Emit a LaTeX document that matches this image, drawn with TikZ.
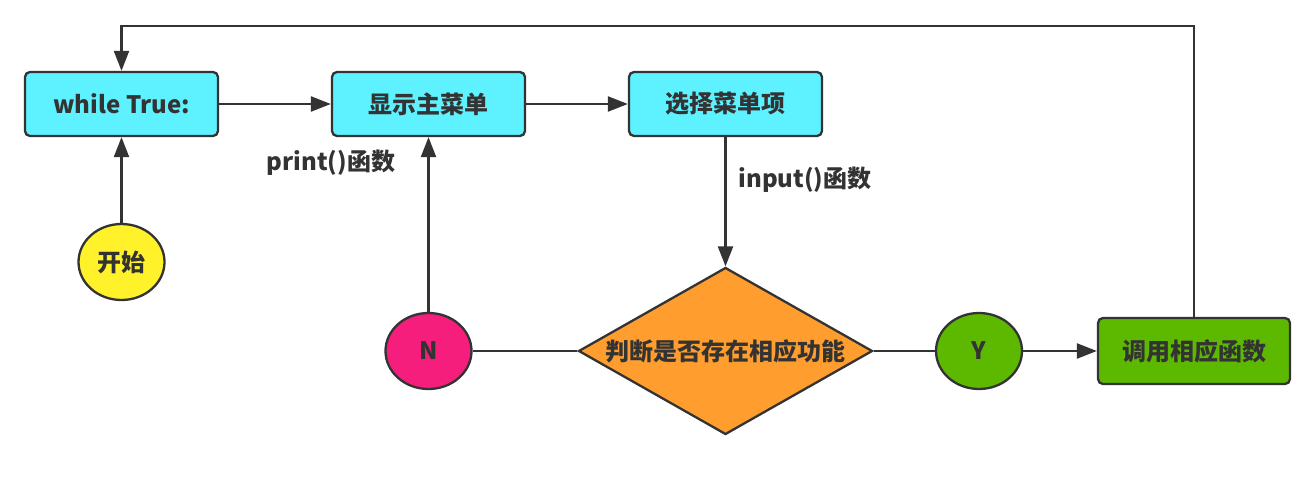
\documentclass[tikz,border=0pt]{standalone}
\usepackage{fontspec}
\setmainfont{Noto Sans CJK SC}
\usetikzlibrary{arrows.meta,shapes.geometric}
\definecolor{ln}{HTML}{333333}
\definecolor{cy}{HTML}{5EF1FF}
\definecolor{yl}{HTML}{FFF22A}
\definecolor{pk}{HTML}{F51E7C}
\definecolor{og}{HTML}{FF9D2E}
\definecolor{gr}{HTML}{5DB800}
\begin{document}
\begin{tikzpicture}[x=1pt,y=-1pt,
  every node/.style={font=\fontsize{24}{28}\selectfont\bfseries, text=ln},
  box/.style={draw=ln, line width=2.3pt, rounded corners=5pt, minimum width=193pt, minimum height=64pt, inner sep=0pt},
  oval/.style={ellipse, draw=ln, line width=2.3pt, minimum width=86pt, minimum height=76pt, inner sep=0pt},
  conn/.style={draw=ln, line width=2.3pt},
  arr/.style={conn, -{Triangle[length=20pt,width=15pt]}},
  lbl/.style={inner sep=0pt}]
\useasboundingbox[fill=white] (0,0) rectangle (1314,481);
\node[box, fill=cy] (w) at (121.5,104) {while True:};
\node[box, fill=cy] (s) at (428.5,104) {显示主菜单};
\node[box, fill=cy] (c) at (725.5,104) {选择菜单项};
\node[oval, fill=yl] (st) at (121.5,262) {开始};
\node[oval, fill=pk] (n) at (428.5,351) {N};
\node[diamond, draw=ln, line width=2.3pt, fill=og, minimum width=294pt, minimum height=167pt, inner sep=0pt,
  label={center:判断是否存在相应功能}] (d) at (725.5,351) {};
\node[oval, fill=gr] (y) at (979,351) {Y};
\node[box, fill=gr, minimum width=192pt, minimum height=66pt] (g) at (1194,351) {调用相应函数};
\node[lbl] (pl) at (331,163) {print()函数};
\node[lbl] (il) at (805,180) {input()函数};
\coordinate (top) at (0,26);
\draw[arr] (w) -- (s);
\draw[arr] (s) -- (c);
\draw[arr] (st) -- (w);
\draw[arr] (n) -- (s);
\draw[arr] (c) -- (d.north);
\draw[conn] (d.west) -- (n);
\draw[conn] (d.east) -- (y);
\draw[arr] (y) -- (g);
\draw[arr] (g.north) |- (w.north |- top) -- (w.north);
\end{tikzpicture}
\end{document}
